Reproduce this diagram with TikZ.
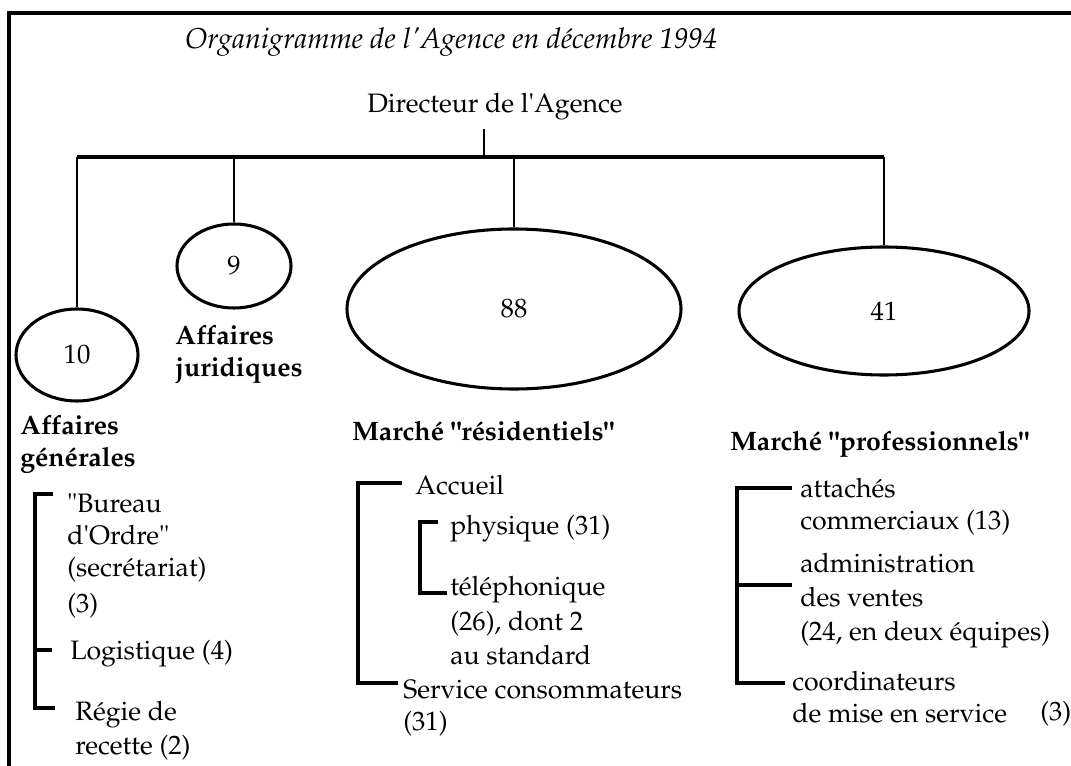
\documentclass[tikz,border=0pt]{standalone}
\usepackage[T1]{fontenc}
\usepackage{mathpazo}
\usetikzlibrary{shapes.geometric}
\newcommand{\ap}{\textquotesingle}
\begin{document}
\begin{tikzpicture}[x=0.75pt,y=-0.75pt,
  txt/.style={inner sep=0pt, font=\fontsize{20}{24}\selectfont, align=left},
  lbl/.style={inner sep=0pt, font=\fontsize{20}{24}\selectfont\bfseries, align=left},
  oval/.style={ellipse, draw, line width=2.3pt, inner sep=0pt, font=\fontsize{20}{24}\selectfont},
  link/.style={line width=1.9pt},
  barline/.style={line width=2.6pt},
  brk/.style={line width=2.4pt},
]
\useasboundingbox (0,0) rectangle (1071,766);
% frame
\draw[line width=3pt] (1071,13) -- (9,13) -- (9,766);

% title and director
\node[inner sep=0pt, font=\fontsize{21.5}{26}\selectfont\itshape, anchor=base] (title) at (451,49) {Organigramme de l\ap Agence en d\'ecembre 1994};
\node[txt, anchor=base] (dir) at (495,113) {Directeur de l\ap Agence};

% ellipses
\node[oval, minimum width=91.5pt, minimum height=69pt] (e10) at (77,355) {10};
\node[oval, minimum width=85.5pt, minimum height=63pt] (e9) at (234,266) {9};
\node[oval, minimum width=250.5pt, minimum height=120pt] (e88) at (514,309) {88};
\node[oval, minimum width=217.5pt, minimum height=96pt] (e41) at (884,311) {41};

% tree connectors
\coordinate (b0) at (484,157);
\draw[link] ([yshift=-6pt]dir.south -| b0) -- (b0);
\draw[barline] (e10.north |- b0) -- (e41.north |- b0);
\draw[link] (e10.north |- b0) -- (e10.north);
\draw[link] (e9.north |- b0) -- (e9.north);
\draw[link] (e88.north |- b0) -- (e88.north);
\draw[link] (e41.north |- b0) -- (e41.north);

% department labels
\node[lbl, anchor=north west] (aj) at (175,325) {Affaires\\juridiques};
\node[lbl, anchor=north west] (ag) at (20,415) {Affaires\\g\'en\'erales};
\node[lbl, anchor=north west] (mr) at (352,421) {March\'e "r\'esidentiels"};
\node[lbl, anchor=north west] (mp) at (730,431) {March\'e "professionnels"};

% Affaires generales items
\node[txt, anchor=north west] (bur) at (67,494) {"Bureau\\d\ap Ordre"\\(secr\'etariat)\\[3pt](3)};
\node[txt, anchor=north west] (log) at (70,640) {Logistique (4)};
\node[txt, anchor=north west] (reg) at (75,701) {R\'egie de\\[1.5pt]recette (2)};
\coordinate (agA) at (53,494);
\coordinate (agV) at (35,494);
\coordinate (agB) at (35,708);
\coordinate (agC) at (55,708);
\coordinate (agM) at (52,650);
\draw[brk] (agA) -- (agV) -- (agB) -- (agC);
\draw[brk] (agV |- agM) -- (agM);

% Marche residentiels items
\node[txt, anchor=north west] (acc) at (415,475) {Accueil};
\node[txt, anchor=north west] (phy) at (450,515) {physique (31)};
\node[txt, anchor=north west] (tel) at (450,576) {t\'el\'ephonique\\[2pt](26), dont 2\\[2pt]au standard};
\node[txt, anchor=north west] (svc) at (403,680) {Service consommateurs\\(31)};
\coordinate (rA) at (402,483);
\coordinate (rV) at (358,483);
\coordinate (rB) at (358,683);
\coordinate (rC) at (398,683);
\draw[brk] (rA) -- (rV) -- (rB) -- (rC);
\coordinate (iA) at (438,522);
\coordinate (iV) at (420,522);
\coordinate (iB) at (420,593);
\coordinate (iC) at (447,593);
\draw[brk] (iA) -- (iV) -- (iB) -- (iC);

% Marche professionnels items
\node[txt, anchor=north west] (att) at (800,478) {attach\'es\\commerciaux (13)};
\node[txt, anchor=north west] (adm) at (800,553) {administration\\[1.5pt]des ventes\\[1.5pt](24, en deux \'equipes)};
\node[txt, anchor=north west] (coo) at (792,671) {coordinateurs\\de mise en service};
\node[txt, anchor=north west] (c3) at (1040,701) {(3)};
\coordinate (pA) at (792,488);
\coordinate (pV) at (737,488);
\coordinate (pB) at (737,683);
\coordinate (pC) at (785,683);
\coordinate (pM) at (792,585);
\draw[brk] (pA) -- (pV) -- (pB) -- (pC);
\draw[brk] (pV |- pM) -- (pM);
\end{tikzpicture}
\end{document}
